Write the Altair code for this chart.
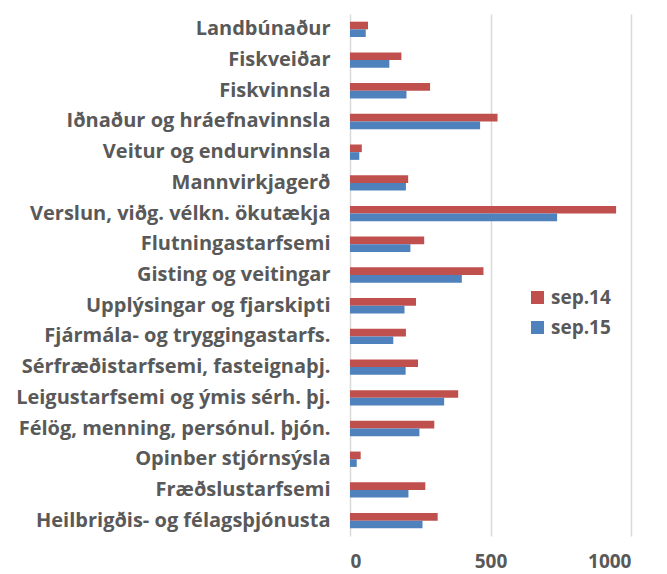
import altair as alt
import pandas as pd

categories = [
    "Landbúnaður", "Fiskveiðar", "Fiskvinnsla", "Iðnaður og hráefnavinnsla",
    "Veitur og endurvinnsla", "Mannvirkjagerð", "Verslun, viðg. vélkn. ökutækja",
    "Flutningastarfsemi", "Gisting og veitingar", "Upplýsingar og fjarskipti",
    "Fjármála- og tryggingastarfs.", "Sérfræðistarfsemi, fasteignaþj.",
    "Leigustarfsemi og ýmis sérh. þj.", "Félög, menning, persónul. þjón.",
    "Opinber stjórnsýsla", "Fræðslustarfsemi", "Heilbrigðis- og félagsþjónusta",
]
sep14 = [64, 183, 285, 525, 42, 207, 947, 264, 475, 235, 199, 242, 385, 300, 38, 268, 312]
sep15 = [56, 140, 201, 463, 33, 199, 737, 215, 398, 194, 154, 198, 335, 247, 24, 208, 258]
series = ["sep.14", "sep.15"]
colors = ["#C0504D", "#4F81BD"]

rows = []
for c, a, b in zip(categories, sep14, sep15):
    rows.append({"cat": c, "series": series[0], "value": a})
    rows.append({"cat": c, "series": series[1], "value": b})
df = pd.DataFrame(rows)

font = "Open Sans"
grey = "#595959"

chart = alt.Chart(df).mark_bar().encode(
    y=alt.Y("cat:N", sort=categories, title=None,
            scale=alt.Scale(paddingInner=0.5, paddingOuter=0.25),
            axis=alt.Axis(labelFont=font, labelFontWeight="bold", labelFontSize=20,
                          labelColor=grey, ticks=False, domain=False, labelPadding=20,
                          labelLimit=400)),
    yOffset=alt.YOffset("series:N", sort=series),
    x=alt.X("value:Q", title=None,
            scale=alt.Scale(domain=[0, 1000], nice=False),
            axis=alt.Axis(values=[0, 500, 1000], format="d", labelFont=font,
                          labelFontWeight="bold", labelFontSize=19, labelColor=grey,
                          ticks=False, domain=False, grid=True, gridColor="#D9D9D9",
                          gridWidth=1.5, labelPadding=16)),
    color=alt.Color("series:N", sort=series,
                    scale=alt.Scale(domain=series, range=colors),
                    legend=alt.Legend(title=None, orient="none", legendX=178, legendY=274,
                                      symbolType="square", symbolSize=170,
                                      labelFont=font, labelFontWeight="bold",
                                      labelFontSize=19, labelColor=grey,
                                      rowPadding=10, symbolStrokeWidth=0)),
).properties(
    width=281, height=522,
    autosize=alt.AutoSizeParams(type="none"),
    padding={"left": 342, "top": 6, "right": 20, "bottom": 36},
).configure_view(stroke=None)

chart.save("out.html", embed_options={"renderer": "svg", "actions": False})
